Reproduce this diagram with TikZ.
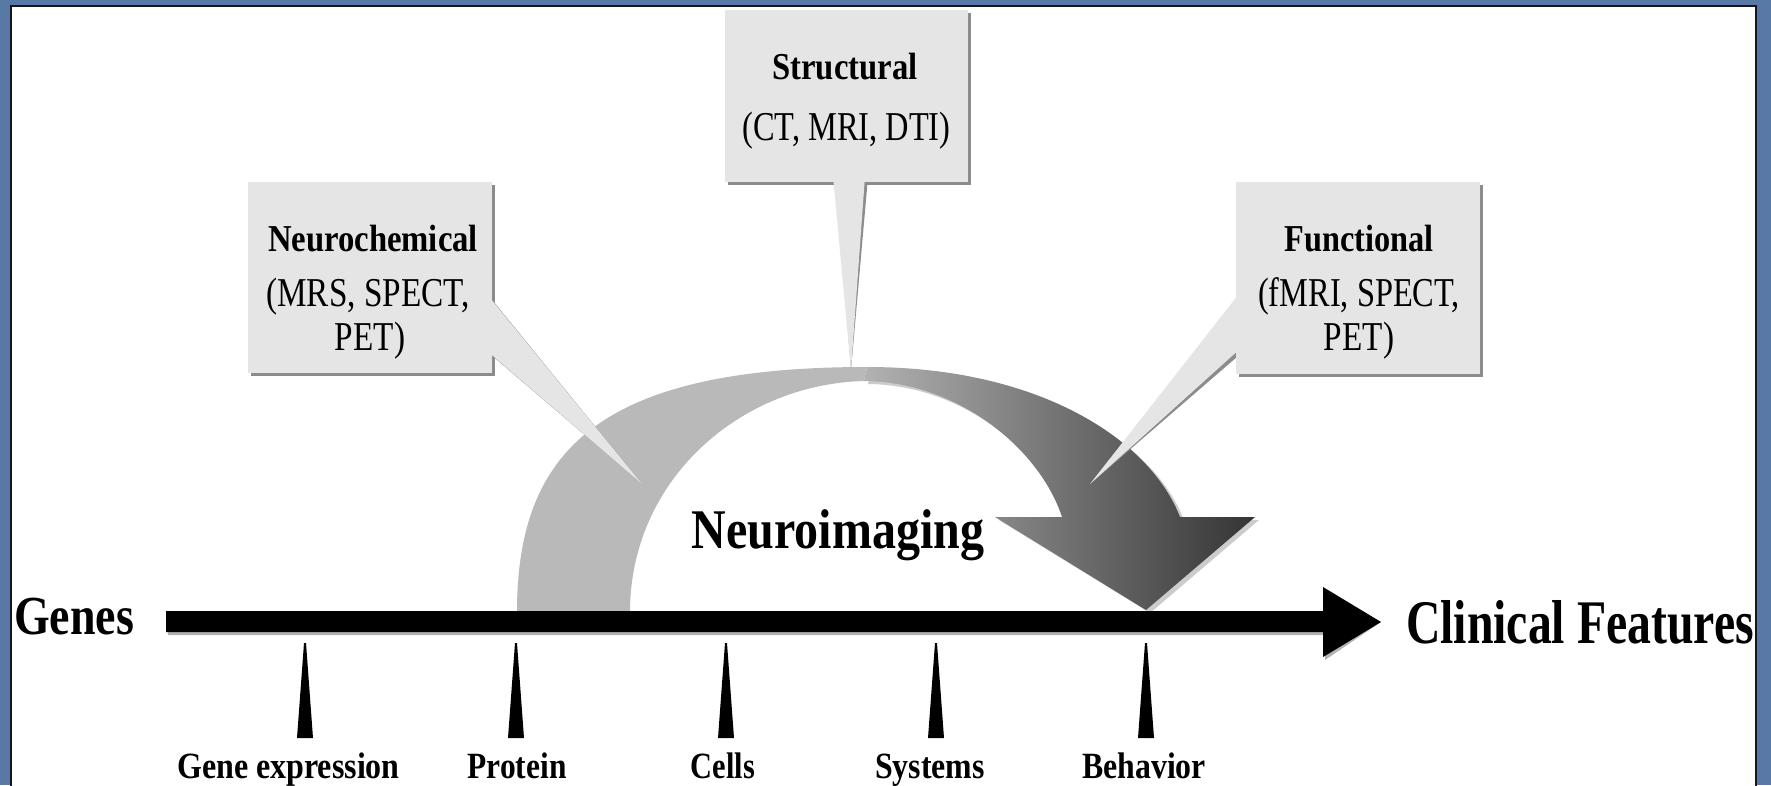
\documentclass[tikz,border=0pt]{standalone}
\usepackage{fontspec}
\setmainfont{Liberation Serif}
\usepackage{graphicx}
\usetikzlibrary{shadows}
\newcommand\hsq[2]{\scalebox{#1}[1]{#2}}
\definecolor{bgblue}{RGB}{88,121,165}
\definecolor{framecol}{RGB}{20,22,28}
\definecolor{boxgray}{RGB}{229,229,229}
\definecolor{shadgray}{RGB}{140,140,140}
\definecolor{bandlight}{RGB}{185,185,185}
\definecolor{bandtop}{RGB}{178,178,178}
\definecolor{banddark}{RGB}{52,52,52}
\begin{document}
\begin{tikzpicture}[x=1pt,y=-1pt,
  bx/.style={inner sep=0, outer sep=0, fill=boxgray,
    drop shadow={shadow xshift=3pt, shadow yshift=-3pt, fill=shadgray, opacity=1}},
  ptr/.style={fill=boxgray},
  ptrshadow/.style={fill=shadgray},
  boldlbl/.style={inner sep=0, anchor=base, font=\bfseries\fontsize{38}{44}\selectfont},
  reglbl/.style={inner sep=0, anchor=base, font=\fontsize{41}{46}\selectfont},
  ticklbl/.style={inner sep=0, anchor=base, font=\bfseries\fontsize{37}{44}\selectfont},
  biglbl/.style={inner sep=0, anchor=base, font=\bfseries\fontsize{55}{60}\selectfont},
  tickmark/.style={fill=black},
]
\useasboundingbox (0,0) rectangle (1771,785);
% background
\fill[bgblue] (0,0) rectangle (1771,785);
\fill[white] (11,6) rectangle (1756,790);
\draw[framecol, line width=2.5pt] (11,790) -- (11,6) -- (1756,6) -- (1756,790);

% curved arrow: left band
\fill[bandlight] (517,612) .. controls (517,450) and (600,367) .. (867,367)
  -- (864,381) .. controls (740,384) and (630,480) .. (630,612) -- cycle;
% right band shadow
\fill[gray!40, shift={(4,3)}] (867,367) .. controls (1040,367) and (1150,440) .. (1180,517)
  -- (1255,517) -- (1146,610) -- (995,517) -- (1062,517)
  .. controls (1040,450) and (960,382) .. (864,381) -- cycle;
% right band
\shade[left color=bandtop, right color=banddark] (867,367) .. controls (1040,367) and (1150,440) .. (1180,517)
  -- (1255,517) -- (1146,610) -- (995,517) -- (1062,517)
  .. controls (1040,450) and (960,382) .. (864,381) -- cycle;

% pointer tips
\coordinate (neurotip) at (642,484);
\coordinate (structtip) at (851,370);
\coordinate (functip) at (1090,484);

% pointer shadows
\fill[ptrshadow, shift={(3,3)}] (486,293) -- (neurotip) -- (486,350) -- cycle;
\fill[ptrshadow, shift={(3,1)}] (833,176) -- (865,176) -- (structtip) -- cycle;
\fill[ptrshadow, shift={(3,3)}] (1242,290) -- (functip) -- (1242,347) -- cycle;

% boxes
\node[bx, minimum width=244pt, minimum height=191pt] (neurobox) at (370,277.5) {};
\node[bx, minimum width=243pt, minimum height=172pt] (structbox) at (846.5,96) {};
\node[bx, minimum width=244pt, minimum height=192pt] (funcbox) at (1358,278) {};

% pointers
\fill[ptr] (486,293) -- (neurotip) -- (486,350) -- cycle;
\fill[ptr] (833,176) -- (865,176) -- (structtip) -- cycle;
\fill[ptr] (1242,290) -- (functip) -- (1242,347) -- cycle;

% box texts
\node[boldlbl] (neuroA) at (373,251) {\hsq{0.86}{Neurochemical}};
\node[reglbl] (neuroB) at (368,306) {\hsq{0.81}{(MRS, SPECT,}};
\node[reglbl] (neuroC) at (370,350) {\hsq{0.81}{PET)}};
\node[boldlbl] (structA) at (845,79) {\hsq{0.86}{Structural}};
\node[reglbl] (structB) at (846.5,140) {\hsq{0.79}{(CT, MRI, DTI)}};
\node[boldlbl] (funcA) at (1359,251) {\hsq{0.85}{Functional}};
\node[reglbl] (funcB) at (1359,306) {\hsq{0.79}{(fMRI, SPECT,}};
\node[reglbl] (funcC) at (1359,350) {\hsq{0.81}{PET)}};

% Neuroimaging label
\node[biglbl, font=\bfseries\fontsize{56}{60}\selectfont] (neuroimg) at (838,548) {\hsq{0.857}{Neuroimaging}};

% main axis
\coordinate (axL) at (166,621.5);
\coordinate (axR) at (1381,622);
\fill[gray!60, shift={(2,3)}] (axL) ++(0,-10.5) -- (1323,611) -- (1323,587) -- (axR) -- (1323,657) -- (1323,632) -- (166,632) -- cycle;
\fill[black] (axL) ++(0,-10.5) -- (1323,611) -- (1323,587) -- (axR) -- (1323,657) -- (1323,632) -- (166,632) -- cycle;

\node[biglbl] (genes) at (74,634) {\hsq{0.835}{Genes}};
\node[biglbl, font=\bfseries\fontsize{62}{66}\selectfont] (clinical) at (1580,643) {\hsq{0.77}{Clinical Features}};

% ticks
\foreach \x/\nm in {305/t1,516/t2,726/t3,936/t4,1146/t5}{
  \fill[tickmark] (\x-8,738) -- (\x-1,643) -- (\x+1,643) -- (\x+8,738) -- cycle;
  \coordinate (\nm) at (\x,738);
}
\node[ticklbl] (lgene) at (288.5,778) {\hsq{0.865}{Gene expression}};
\node[ticklbl] (lprot) at (517,778) {\hsq{0.85}{Protein}};
\node[ticklbl] (lcell) at (723,778) {\hsq{0.82}{Cells}};
\node[ticklbl] (lsys) at (930,778) {\hsq{0.86}{Systems}};
\node[ticklbl] (lbeh) at (1144,778) {\hsq{0.86}{Behavior}};
\end{tikzpicture}
\end{document}
